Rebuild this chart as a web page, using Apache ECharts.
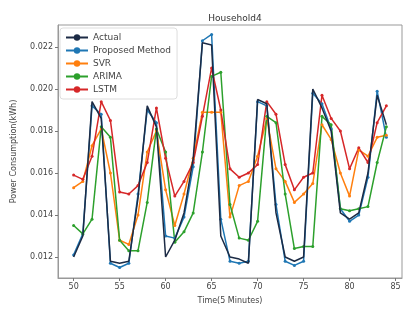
<!DOCTYPE html>
<html>
<head>
<meta charset="utf-8">
<script src="https://cdn.jsdelivr.net/npm/echarts@6/dist/echarts.min.js"></script>
<style>
html, body { margin: 0; padding: 0; background: #fff; }
#chart { width: 414px; height: 313px; }
</style>
</head>
<body>
<div id="chart"></div>
<script>
// time steps (5 minute slots)
var steps = [50,51,52,53,54,55,56,57,58,59,60,61,62,63,64,65,66,67,68,69,70,71,72,73,74,75,76,77,78,79,80,81,82,83,84];
var actual   = [.0120,.0130,.0194,.0186,.0118,.0117,.0118,.0148,.0192,.0182,.0120,.0128,.0141,.0167,.0222,.0221,.0130,.0120,.0119,.0117,.0195,.0193,.0141,.0120,.0118,.0120,.0200,.0191,.0180,.0141,.0138,.0141,.0160,.0197,.0183];
var proposed = [.0121,.0131,.0192,.0188,.0117,.0115,.0117,.0150,.0190,.0184,.0130,.0129,.0139,.0163,.0223,.0226,.0138,.0118,.0117,.0118,.0194,.0192,.0145,.0118,.0116,.0118,.0198,.0193,.0181,.0143,.0137,.0140,.0158,.0199,.0177];
var svr      = [.0153,.0156,.0173,.0181,.0160,.0128,.0126,.0140,.0170,.0180,.0152,.0135,.0150,.0167,.0189,.0189,.0189,.0139,.0154,.0156,.0168,.0186,.0162,.0156,.0146,.0150,.0155,.0183,.0176,.0160,.0149,.0171,.0168,.0177,.0178];
var arima    = [.0135,.0131,.0138,.0182,.0177,.0128,.0123,.0123,.0146,.0181,.0170,.0127,.0132,.0141,.0170,.0206,.0208,.0145,.0129,.0128,.0137,.0187,.0184,.0150,.0124,.0125,.0125,.0187,.0183,.0143,.0142,.0143,.0144,.0165,.0182];
var lstm     = [.0159,.0157,.0168,.0194,.0185,.0151,.0150,.0154,.0165,.0191,.0167,.0149,.0156,.0165,.0187,.0210,.0190,.0162,.0158,.0160,.0164,.0194,.0188,.0164,.0152,.0158,.0160,.0197,.0186,.0180,.0162,.0172,.0165,.0184,.0192];
var xTicks = [50,55,60,65,70,75,80,85];
var yTicks = [0.012,0.014,0.016,0.018,0.020,0.022];

function pairs(vals) {
    return steps.map(function (t, i) { return [t, vals[i]]; });
}
function line(name, vals, color, marker) {
    return {
        name: name,
        type: 'line',
        data: pairs(vals),
        symbol: marker ? 'circle' : 'none',
        symbolSize: 3,
        showSymbol: marker,
        lineStyle: { color: color, width: 1.5 },
        itemStyle: { color: color },
        z: marker ? 2 : 3
    };
}

var chart = echarts.init(document.getElementById('chart'));
var axisText = { color: '#444', fontSize: 8, fontFamily: 'DejaVu Sans' };
chart.setOption({
    animation: false,
    title: {
        text: 'Household4',
        left: 230, top: 9, textAlign: 'center',
        textStyle: { fontSize: 9, fontWeight: 'normal', color: '#333', fontFamily: 'DejaVu Sans' }
    },
    legend: {
        orient: 'vertical',
        left: 60, top: 28,
        padding: [5, 6, 5, 5],
        itemGap: 4,
        itemWidth: 22, itemHeight: 8,
        backgroundColor: 'rgba(255,255,255,0.85)',
        borderColor: '#ddd', borderWidth: 1, borderRadius: 3,
        textStyle: { fontSize: 9, color: '#444', fontFamily: 'DejaVu Sans' },
        data: ['Actual', 'Proposed Method', 'SVR', 'ARIMA', 'LSTM']
    },
    grid: { left: 58, right: 12, top: 25, bottom: 35, show: true, borderColor: '#999', borderWidth: 1 },
    xAxis: {
        type: 'value',
        min: 48.3, max: 85.7,
        name: 'Time(5 Minutes)', nameLocation: 'middle', nameGap: 19,
        nameTextStyle: axisText,
        axisLine: { lineStyle: { color: '#999' } },
        axisTick: { show: true, length: 3, customValues: xTicks, lineStyle: { color: '#777' } },
        axisLabel: Object.assign({ customValues: xTicks, margin: 5 }, axisText),
        splitLine: { show: false }
    },
    yAxis: {
        type: 'value',
        min: 0.011, max: 0.02305,
        name: 'Power Consumption(kWh)', nameLocation: 'middle', nameGap: 40,
        nameTextStyle: axisText,
        axisLine: { show: true, lineStyle: { color: '#999' } },
        axisTick: { show: true, length: 3, customValues: yTicks, lineStyle: { color: '#777' } },
        axisLabel: Object.assign({ customValues: yTicks, margin: 5, formatter: function (v) { return v.toFixed(3); } }, axisText),
        splitLine: { show: false }
    },
    series: [
        line('Actual', actual, '#1c2b45', false),
        line('Proposed Method', proposed, '#1f77b4', true),
        line('SVR', svr, '#ff7f0e', true),
        line('ARIMA', arima, '#2ca02c', true),
        line('LSTM', lstm, '#d62728', true)
    ]
});
</script>
</body>
</html>
